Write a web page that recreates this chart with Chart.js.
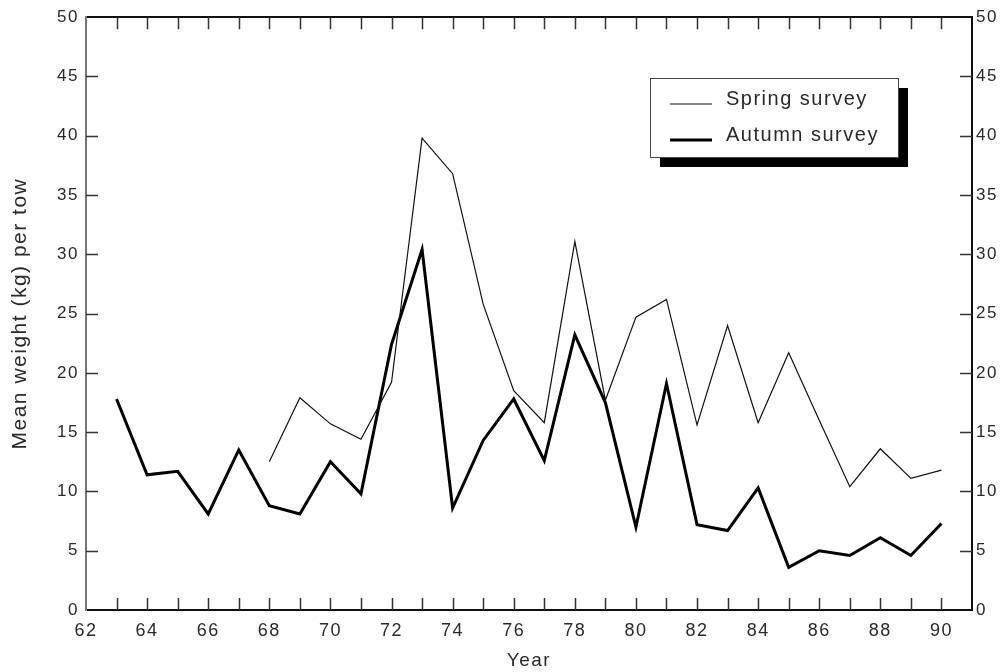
<!DOCTYPE html>
<html>
<head>
<meta charset="utf-8">
<script src="https://cdn.jsdelivr.net/npm/chart.js@4.4.1/dist/chart.umd.min.js"></script>
<style>
    html, body { margin: 0; padding: 0; background: #fff; }
    #wrap { width: 1003px; height: 672px; }
</style>
</head>
<body>
<div id="wrap"><canvas id="surveyChart" width="1003" height="672"></canvas></div>
<script>
// Data
const autumnYears = [63, 64, 65, 66, 67, 68, 69, 70, 71, 72, 73, 74, 75, 76, 77, 78, 79, 80, 81, 82, 83, 84, 85, 86, 87, 88, 89, 90];
const autumnValues = [17.8, 11.4, 11.7, 8.1, 13.5, 8.8, 8.1, 12.5, 9.8, 22.4, 30.4, 8.6, 14.3, 17.8, 12.6, 23.2, 17.5, 7.0, 19.1, 7.2, 6.7, 10.3, 3.6, 5.0, 4.6, 6.1, 4.6, 7.3];

const springYears = [68, 69, 70, 71, 72, 73, 74, 75, 76, 77, 78, 79, 80, 81, 82, 83, 84, 85, 86, 87, 88, 89, 90];
const springValues = [12.5, 17.9, 15.7, 14.4, 19.2, 39.8, 36.8, 25.8, 18.5, 15.8, 31.1, 17.7, 24.7, 26.2, 15.6, 24.0, 15.8, 21.7, 16.0, 10.4, 13.6, 11.1, 11.8];

// Tick labels
const xTickLabels = [62, 64, 66, 68, 70, 72, 74, 76, 78, 80, 82, 84, 86, 88, 90];
const xMinorTicks = [63, 64, 65, 66, 67, 68, 69, 70, 71, 72, 73, 74, 75, 76, 77, 78, 79, 80, 81, 82, 83, 84, 85, 86, 87, 88, 89, 90];
const yTickLabels = [0, 5, 10, 15, 20, 25, 30, 35, 40, 45, 50];

const FONT = "'Liberation Sans', Arial, sans-serif";
const TEXT = '#2a2a2a';

function toPoints(xs, ys) {
    return xs.map((x, i) => ({ x: x, y: ys[i] }));
}

/**
 * The original lettering is loosely spaced
 */
const wideText = {
    id: 'wideText',
    beforeDraw(chart) {
        chart.ctx.letterSpacing = '1.5px';
    }
};

/**
 * Inward tick marks on all four sides
 */
const innerTicks = {
    id: 'innerTicks',
    afterDraw(chart) {
        const ctx = chart.ctx;
        const area = chart.chartArea;
        const xs = chart.scales.x;
        const ys = chart.scales.y;
        const len = 12;
        ctx.save();
        ctx.lineWidth = 1.5;
        ctx.strokeStyle = '#333';
        ctx.beginPath();
        xMinorTicks.forEach(v => {
            const px = Math.round(xs.getPixelForValue(v)) + 0.5;
            ctx.moveTo(px, area.bottom);
            ctx.lineTo(px, area.bottom - len);
            ctx.moveTo(px, area.top);
            ctx.lineTo(px, area.top + len);
        });
        yTickLabels.slice(1, -1).forEach(v => {
            const py = Math.round(ys.getPixelForValue(v)) + 0.5;
            ctx.moveTo(area.left, py);
            ctx.lineTo(area.left + len, py);
            ctx.moveTo(area.right, py);
            ctx.lineTo(area.right - len, py);
        });
        ctx.stroke();
        ctx.restore();
    }
};

/**
 * Boxed legend with a drop shadow
 */
const shadowLegend = {
    id: 'shadowLegend',
    afterDraw(chart) {
        const ctx = chart.ctx;
        const bx = 650, by = 78, bw = 248, bh = 79;
        ctx.save();
        ctx.fillStyle = '#000';
        ctx.fillRect(bx + 10, by + 10, bw, bh);
        ctx.fillStyle = '#fff';
        ctx.fillRect(bx, by, bw, bh);
        ctx.strokeStyle = '#444';
        ctx.lineWidth = 1;
        ctx.strokeRect(bx + 0.5, by + 0.5, bw, bh);

        ctx.font = '20px ' + FONT;
        ctx.letterSpacing = '1.5px';
        ctx.fillStyle = TEXT;
        ctx.textBaseline = 'middle';
        ctx.textAlign = 'left';
        const rows = [104, 140];
        chart.data.datasets.forEach((ds, i) => {
            ctx.beginPath();
            ctx.strokeStyle = ds.borderColor;
            ctx.lineWidth = ds.borderWidth;
            ctx.moveTo(670, rows[i]);
            ctx.lineTo(712, rows[i]);
            ctx.stroke();
            ctx.fillText(ds.label, 726, rows[i] - 5);
        });
        ctx.restore();
    }
};

const ctx = document.getElementById('surveyChart').getContext('2d');
new Chart(ctx, {
    type: 'line',
    data: {
        datasets: [
            {
                label: 'Spring survey',
                data: toPoints(springYears, springValues),
                borderColor: '#111',
                borderWidth: 1.2,
                pointRadius: 0,
                tension: 0,
                fill: false
            },
            {
                label: 'Autumn survey',
                data: toPoints(autumnYears, autumnValues),
                borderColor: '#000',
                borderWidth: 3,
                pointRadius: 0,
                tension: 0,
                fill: false
            }
        ]
    },
    options: {
        responsive: false,
        animation: false,
        devicePixelRatio: 1,
        layout: { padding: 0 },
        plugins: {
            legend: { display: false },
            tooltip: { enabled: false }
        },
        scales: {
            x: {
                type: 'linear',
                position: 'bottom',
                min: 62,
                max: 91,
                afterBuildTicks(scale) {
                    scale.ticks = xTickLabels.map(v => ({ value: v }));
                },
                afterFit(scale) { scale.height = 62; },
                grid: { display: false, drawTicks: false },
                border: { display: true, color: '#111', width: 2 },
                ticks: {
                    autoSkip: false,
                    maxRotation: 0,
                    padding: 10,
                    color: TEXT,
                    font: { family: FONT, size: 18 }
                },
                title: {
                    display: true,
                    text: 'Year',
                    color: TEXT,
                    padding: { top: 2, bottom: 0 },
                    font: { family: FONT, size: 19 }
                }
            },
            xTop: {
                type: 'linear',
                position: 'top',
                min: 62,
                max: 91,
                afterFit(scale) { scale.height = 14; },
                grid: { display: false, drawTicks: false },
                border: { display: true, color: '#111', width: 2 },
                ticks: { display: false }
            },
            y: {
                position: 'left',
                min: 0,
                max: 50,
                afterBuildTicks(scale) {
                    scale.ticks = yTickLabels.map(v => ({ value: v }));
                },
                afterFit(scale) { scale.width = 86; },
                grid: { display: false, drawTicks: false },
                border: { display: true, color: '#777', width: 2 },
                ticks: {
                    padding: 7,
                    color: TEXT,
                    font: { family: FONT, size: 17 }
                },
                title: {
                    display: true,
                    text: 'Mean weight (kg) per tow',
                    color: TEXT,
                    padding: { top: 8, bottom: 0 },
                    font: { family: FONT, size: 21 }
                }
            },
            yRight: {
                position: 'right',
                min: 0,
                max: 50,
                afterBuildTicks(scale) {
                    scale.ticks = yTickLabels.map(v => ({ value: v }));
                },
                afterFit(scale) { scale.width = 31; },
                grid: { display: false, drawTicks: false },
                border: { display: true, color: '#111', width: 2 },
                ticks: {
                    padding: 4,
                    color: TEXT,
                    font: { family: FONT, size: 17 }
                }
            }
        }
    },
    plugins: [wideText, innerTicks, shadowLegend]
});
</script>
</body>
</html>
